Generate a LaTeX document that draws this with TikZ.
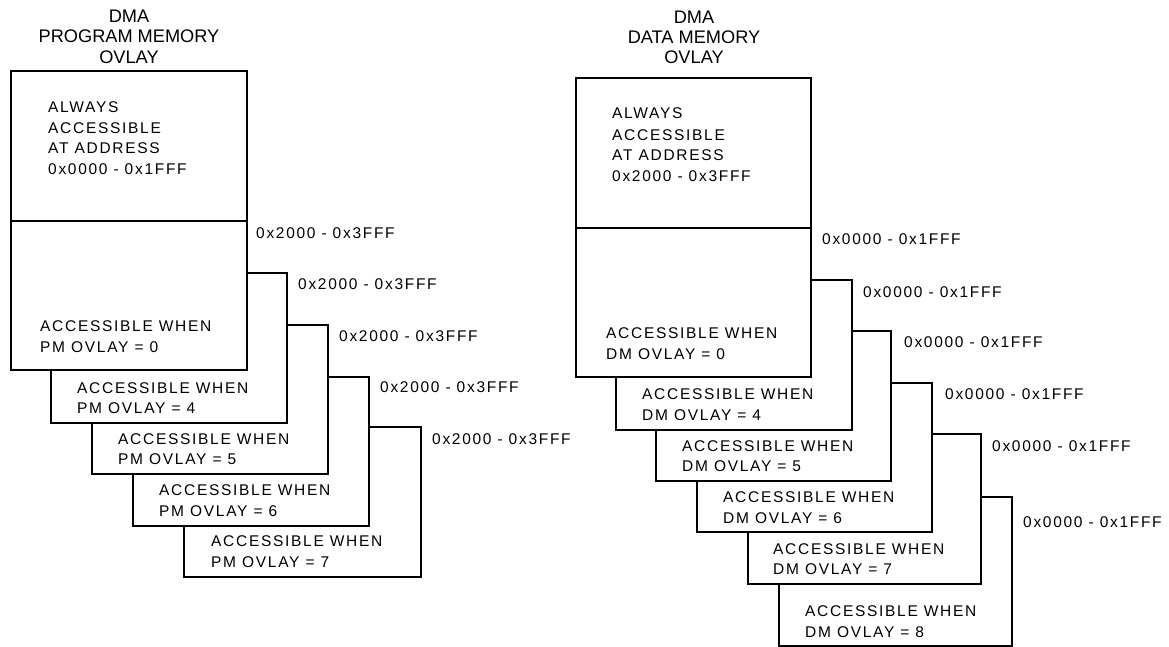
\documentclass[tikz,border=0pt]{standalone}
\usepackage{fontspec}
\setmainfont{Liberation Sans}
\newfontfamily\lblfont[LetterSpace=11]{Liberation Sans}
\newfontfamily\ttlfont{Liberation Sans}
\begin{document}
\begin{tikzpicture}[x=1pt,y=-1pt,
  box/.style={draw=black,fill=white,line width=1.8pt},
  divline/.style={draw=black,line width=1.8pt},
  lbl/.style={anchor=west,inner sep=0pt,font=\lblfont\fontsize{15.5}{18}\selectfont},
  ttl/.style={anchor=center,inner sep=0pt,font=\ttlfont\fontsize{18.2}{21}\selectfont}]
\useasboundingbox (0,0) rectangle (1169,647);

% ---------- left: program memory ----------
\node[ttl] (pt1) at (129,16) {DMA};
\node[ttl] (pt2) at (129,36) {PROGRAM MEMORY};
\node[ttl] (pt3) at (129,57) {OVLAY};

\draw[box] (184,427) rectangle (421,577);
\draw[box] (133,377) rectangle (369,526);
\draw[box] (92,325) rectangle (328,474);
\draw[box] (51,273) rectangle (287,423);
\draw[box] (11,71) rectangle (247,370);
\draw[divline] (11,221) -- (247,221);

\node[lbl] (pa1) at (48,107) {ALWAYS};
\node[lbl] (pa2) at (48,128) {ACCESSIBLE};
\node[lbl] (pa3) at (48,148) {AT ADDRESS};
\node[lbl] (pa4) at (48,169) {0x0000 - 0x1FFF};

\node[lbl] (p0a) at (40,326) {ACCESSIBLE WHEN};
\node[lbl] (p0b) at (40,347) {PM OVLAY = 0};
\node[lbl] (p4a) at (77,388) {ACCESSIBLE WHEN};
\node[lbl] (p4b) at (77,408) {PM OVLAY = 4};
\node[lbl] (p5a) at (118,439) {ACCESSIBLE WHEN};
\node[lbl] (p5b) at (118,459) {PM OVLAY = 5};
\node[lbl] (p6a) at (159,490) {ACCESSIBLE WHEN};
\node[lbl] (p6b) at (159,511) {PM OVLAY = 6};
\node[lbl] (p7a) at (211,541) {ACCESSIBLE WHEN};
\node[lbl] (p7b) at (211,562) {PM OVLAY = 7};

\node[lbl] (pr1) at (256,233) {0x2000 - 0x3FFF};
\node[lbl] (pr2) at (298,284) {0x2000 - 0x3FFF};
\node[lbl] (pr3) at (339,336) {0x2000 - 0x3FFF};
\node[lbl] (pr4) at (380,387) {0x2000 - 0x3FFF};
\node[lbl] (pr5) at (432,439) {0x2000 - 0x3FFF};

% ---------- right: data memory ----------
\node[ttl] (dt1) at (694,17) {DMA};
\node[ttl] (dt2) at (694,37) {DATA MEMORY};
\node[ttl] (dt3) at (694,57) {OVLAY};

\draw[box] (779,497) rectangle (1012,646);
\draw[box] (748,434) rectangle (981,584);
\draw[box] (697,383) rectangle (932,532);
\draw[box] (656,331) rectangle (891,481);
\draw[box] (616,280) rectangle (852,430);
\draw[box] (576,78) rectangle (811,377);
\draw[divline] (576,228) -- (811,228);

\node[lbl] (da1) at (612,113) {ALWAYS};
\node[lbl] (da2) at (612,135) {ACCESSIBLE};
\node[lbl] (da3) at (612,155) {AT ADDRESS};
\node[lbl] (da4) at (612,176) {0x2000 - 0x3FFF};

\node[lbl] (d0a) at (606,333) {ACCESSIBLE WHEN};
\node[lbl] (d0b) at (606,354) {DM OVLAY = 0};
\node[lbl] (d4a) at (642,394) {ACCESSIBLE WHEN};
\node[lbl] (d4b) at (642,415) {DM OVLAY = 4};
\node[lbl] (d5a) at (682,446) {ACCESSIBLE WHEN};
\node[lbl] (d5b) at (682,466) {DM OVLAY = 5};
\node[lbl] (d6a) at (723,497) {ACCESSIBLE WHEN};
\node[lbl] (d6b) at (723,518) {DM OVLAY = 6};
\node[lbl] (d7a) at (773,549) {ACCESSIBLE WHEN};
\node[lbl] (d7b) at (773,569) {DM OVLAY = 7};
\node[lbl] (d8a) at (805,611) {ACCESSIBLE WHEN};
\node[lbl] (d8b) at (805,632) {DM OVLAY = 8};

\node[lbl] (dr1) at (822,239) {0x0000 - 0x1FFF};
\node[lbl] (dr2) at (863,292) {0x0000 - 0x1FFF};
\node[lbl] (dr3) at (904,342) {0x0000 - 0x1FFF};
\node[lbl] (dr4) at (945,394) {0x0000 - 0x1FFF};
\node[lbl] (dr5) at (992,446) {0x0000 - 0x1FFF};
\node[lbl] (dr6) at (1023,522) {0x0000 - 0x1FFF};
\end{tikzpicture}
\end{document}
